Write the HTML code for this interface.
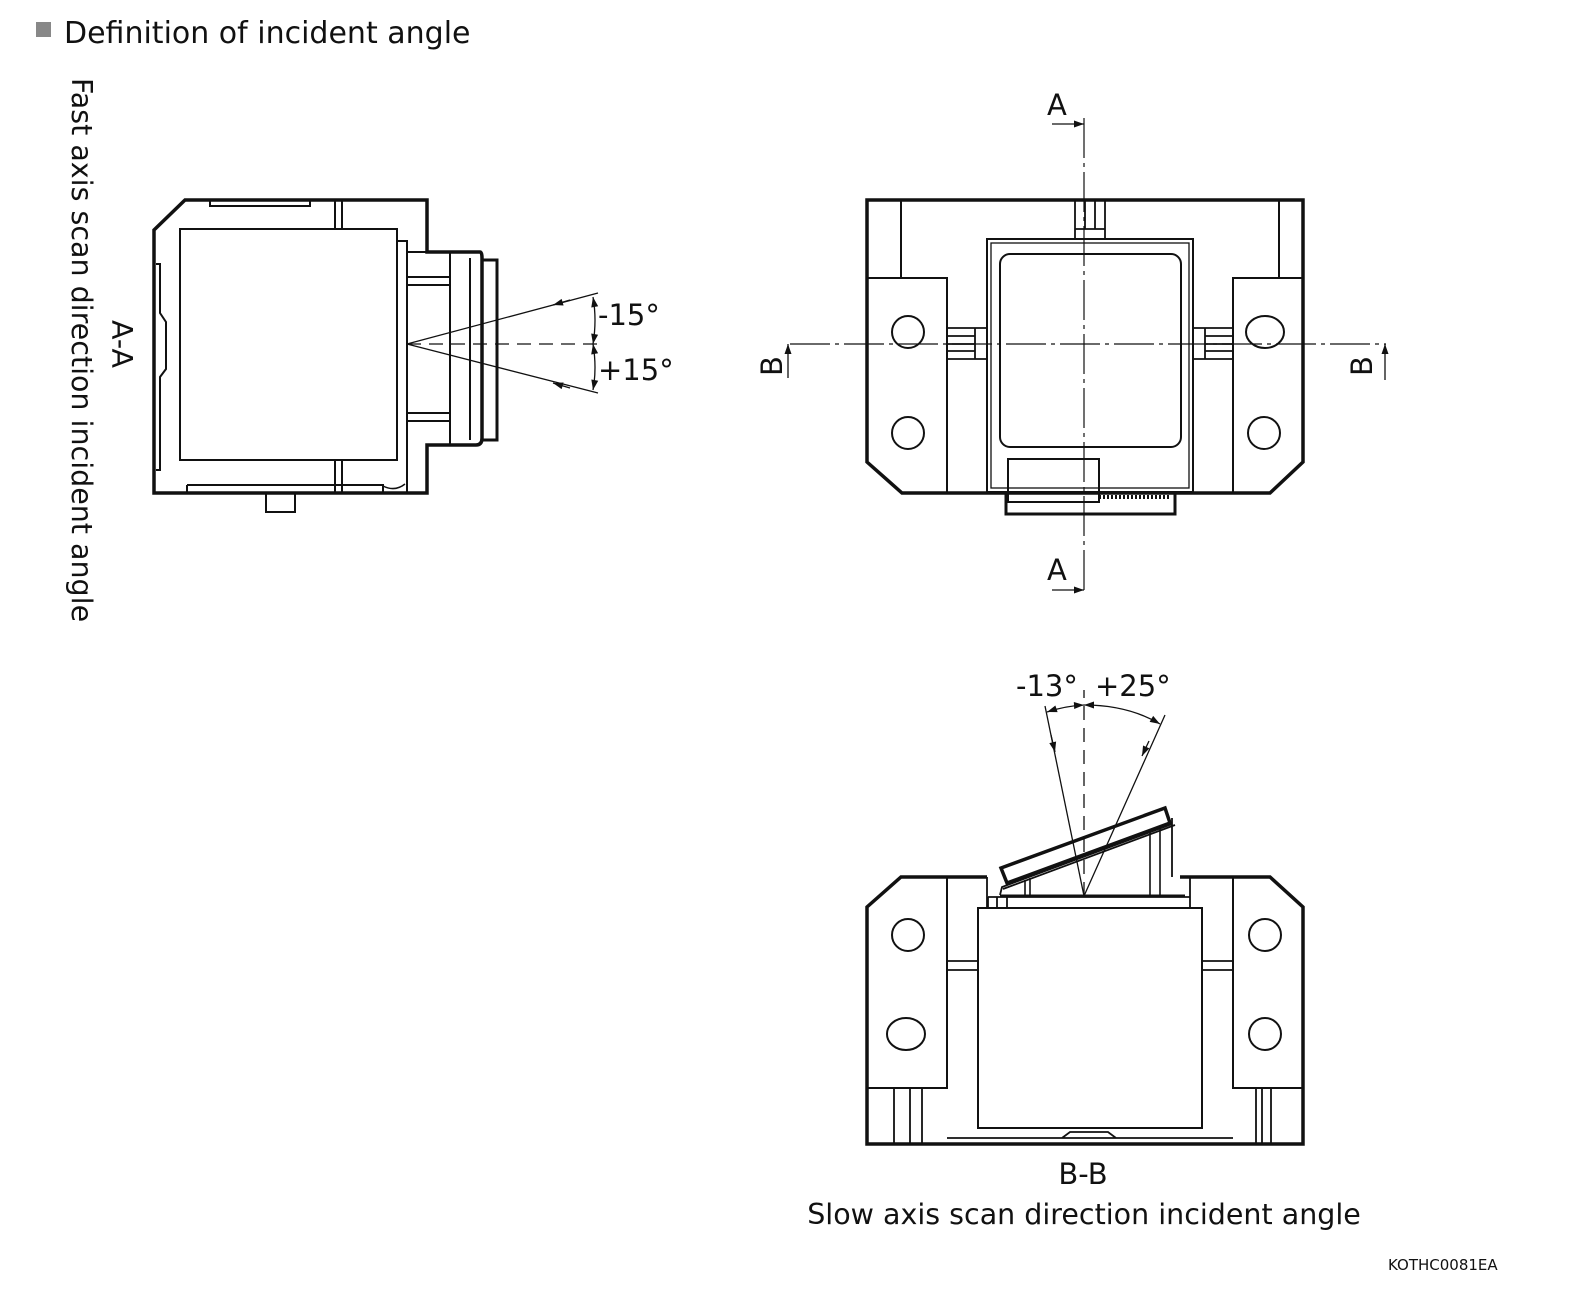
<!DOCTYPE html>
<html><head><meta charset="utf-8"><style>
html,body{margin:0;padding:0;background:#fff}
svg{display:block}
text{font-family:"DejaVu Sans","Liberation Sans",sans-serif;fill:#111}
</style></head><body>
<svg width="1577" height="1291" viewBox="0 0 1577 1291" xmlns="http://www.w3.org/2000/svg">
<defs>
<marker id="ah" viewBox="0 0 10 10" refX="10" refY="5" markerWidth="16" markerHeight="10" orient="auto-start-reverse" markerUnits="userSpaceOnUse"><path d="M0,1.5 L10,5 L0,8.5 z" fill="#111"/></marker>
</defs>
<rect x="36" y="22" width="15" height="15" fill="#888"/>
<text x="64" y="43" font-size="30">Definition of incident angle</text>
<text transform="translate(72,78) rotate(90)" font-size="28.5">Fast axis scan direction incident angle</text>
<text transform="translate(112,320) rotate(90)" font-size="28.5">A-A</text>

<g fill="none" stroke="#111">
<!-- Left view A-A -->
<path d="M154,230 L185,200 L427,200 L427,252 L480,252 Q482,252 482,258 L482,438 Q482,445 476,445 L427,445 L427,493 L154,493 Z" stroke-width="3.5"/>
<rect x="482" y="260" width="15" height="180" stroke-width="3"/>
<rect x="180" y="229" width="217" height="231" stroke-width="2"/>
<path d="M397,241 L407,241 L407,493" stroke-width="2"/>
<path d="M335,200 V229 M342,200 V229 M335,460 V493 M342,460 V493" stroke-width="2"/>
<path d="M210,200 V206 H310 V200" stroke-width="2"/>
<path d="M156,264 H160 V313 L166,322 V369 L160,377 V470 H156" stroke-width="2"/>
<path d="M407,252 H450 V445 M470,258 V440 M407,277 H450 M407,285 H450 M407,413 H450 M407,421 H450" stroke-width="2"/>
<path d="M187,485 H383 V493 M187,485 V493" stroke-width="2"/>
<path d="M383,486 Q395,492 405,484" stroke-width="1.5"/>
<rect x="266" y="493" width="29" height="19" stroke-width="2"/>
<path d="M407,344 H602" stroke-width="1.3" stroke-dasharray="14,8"/>
<path d="M407,344 L598,293 M407,344 L598,393" stroke-width="1.3"/>
<path d="M570,300 L553,305" stroke-width="1.3" marker-end="url(#ah)"/>
<path d="M570,388 L553,383" stroke-width="1.3" marker-end="url(#ah)"/>
<path d="M593,297 Q597,320 593,344" stroke-width="1.3" marker-start="url(#ah)" marker-end="url(#ah)"/>
<path d="M593,344 Q597,368 593,390" stroke-width="1.3" marker-start="url(#ah)" marker-end="url(#ah)"/>

<!-- Top right view -->
<path d="M867,200 H1303 V462 L1270,493 H902 L867,462 Z" stroke-width="3.5"/>
<path d="M867,278 H947 V493 M901,200 V278 M1303,278 H1233 V493 M1279,200 V278" stroke-width="2"/>
<circle cx="908" cy="332" r="16" stroke-width="2"/>
<circle cx="908" cy="433" r="16" stroke-width="2"/>
<ellipse cx="1265" cy="332" rx="19" ry="16" stroke-width="2"/>
<circle cx="1264" cy="433" r="16" stroke-width="2"/>
<rect x="987" y="239" width="206" height="253" stroke-width="2"/>
<rect x="991" y="243" width="198" height="245" stroke-width="1.3"/>
<rect x="1000" y="254" width="181" height="193" rx="10" stroke-width="2"/>
<path d="M1075,200 V239 M1105,200 V239 M1075,229 H1105 M1085,200 V229 M1095,200 V229" stroke-width="1.8"/>
<path d="M947,328 H987 M947,359 H987 M947,336 H975 M947,344 H975 M947,351 H975 M975,328 V359" stroke-width="1.8"/>
<path d="M1233,328 H1193 M1233,359 H1193 M1233,336 H1205 M1233,344 H1205 M1233,351 H1205 M1205,328 V359" stroke-width="1.8"/>
<rect x="1008" y="459" width="91" height="43" stroke-width="2"/>
<rect x="1006" y="493" width="169" height="21" stroke-width="3"/>
<path d="M1099,497 H1170" stroke-width="4" stroke-dasharray="2,2"/>
<path d="M1084,118 V595" stroke-width="1.2" stroke-dasharray="40,5,4,5"/>
<path d="M790,344 H1386" stroke-width="1.2" stroke-dasharray="40,5,4,5"/>
<path d="M1052,124 H1084" stroke-width="1.3" marker-end="url(#ah)"/>
<path d="M1052,590 H1084" stroke-width="1.3" marker-end="url(#ah)"/>
<path d="M788,378 V344" stroke-width="1.3" marker-end="url(#ah)"/>
<path d="M1385,380 V344" stroke-width="1.3" marker-end="url(#ah)"/>

<!-- Bottom view B-B -->
<path d="M987,877 H901 L867,907 V1144 H1303 V907 L1270,877 H1180" stroke-width="3.5"/>
<path d="M867,1088 H947 V877 M1303,1088 H1233 V877" stroke-width="2"/>
<path d="M894,1088 V1144 M910,1088 V1144 M922,1088 V1144 M1256,1088 V1144 M1262,1088 V1144 M1271,1088 V1144" stroke-width="1.8"/>
<circle cx="908" cy="935" r="16" stroke-width="2"/>
<ellipse cx="906" cy="1034" rx="19" ry="16" stroke-width="2"/>
<circle cx="1265" cy="935" r="16" stroke-width="2"/>
<circle cx="1265" cy="1034" r="16" stroke-width="2"/>
<rect x="978" y="908" width="224" height="220" stroke-width="2"/>
<path d="M947,961 H978 M947,970 H978 M1202,961 H1233 M1202,970 H1233" stroke-width="1.8"/>
<path d="M947,1138 H1233 M1062,1138 L1070,1132 H1108 L1116,1138" stroke-width="1.8"/>
<path d="M987,877 V908 M1190,877 V908 M988,897 H1190 V908 M988,897 V908 M997,897 V908 M1007,897 V908" stroke-width="1.8"/>
<path d="M1000,896 H1185" stroke-width="3"/>
<path d="M1001,868 L1165,808 L1170,823 L1007,883 Z" stroke-width="3.5"/>
<path d="M1000,895 L1002,887 L1172,824 M1172,818 V877 M1003,889 L1175,825" stroke-width="1.8"/>
<path d="M1150,832 V896 M1160,828 V896 M1025,880 V896 M1030,878 V896" stroke-width="1.6"/>
<path d="M1084,896 V690" stroke-width="1.3" stroke-dasharray="14,8"/>
<path d="M1084,896 L1045,706 M1084,896 L1165,715" stroke-width="1.3"/>
<path d="M1051,735 L1055,752" stroke-width="1.3" marker-end="url(#ah)"/>
<path d="M1149,741 L1142,756" stroke-width="1.3" marker-end="url(#ah)"/>
<path d="M1047,712 Q1065,706 1084,705" stroke-width="1.3" marker-start="url(#ah)" marker-end="url(#ah)"/>
<path d="M1084,705 Q1128,705 1160,724" stroke-width="1.3" marker-start="url(#ah)" marker-end="url(#ah)"/>
</g>

<text x="598" y="325" font-size="29">-15°</text>
<text x="598" y="380" font-size="29">+15°</text>
<text x="1047" y="115" font-size="29">A</text>
<text x="1047" y="580" font-size="29">A</text>
<text transform="translate(782,376) rotate(-90)" font-size="29">B</text>
<text transform="translate(1372,376) rotate(-90)" font-size="29">B</text>
<text x="1016" y="696" font-size="29">-13°</text>
<text x="1095" y="696" font-size="29">+25°</text>
<text x="1083" y="1184" font-size="29" text-anchor="middle">B-B</text>
<text x="1084" y="1224" font-size="28.5" text-anchor="middle">Slow axis scan direction incident angle</text>
<text x="1388" y="1270" font-size="15">KOTHC0081EA</text>
</svg>
</body></html>
